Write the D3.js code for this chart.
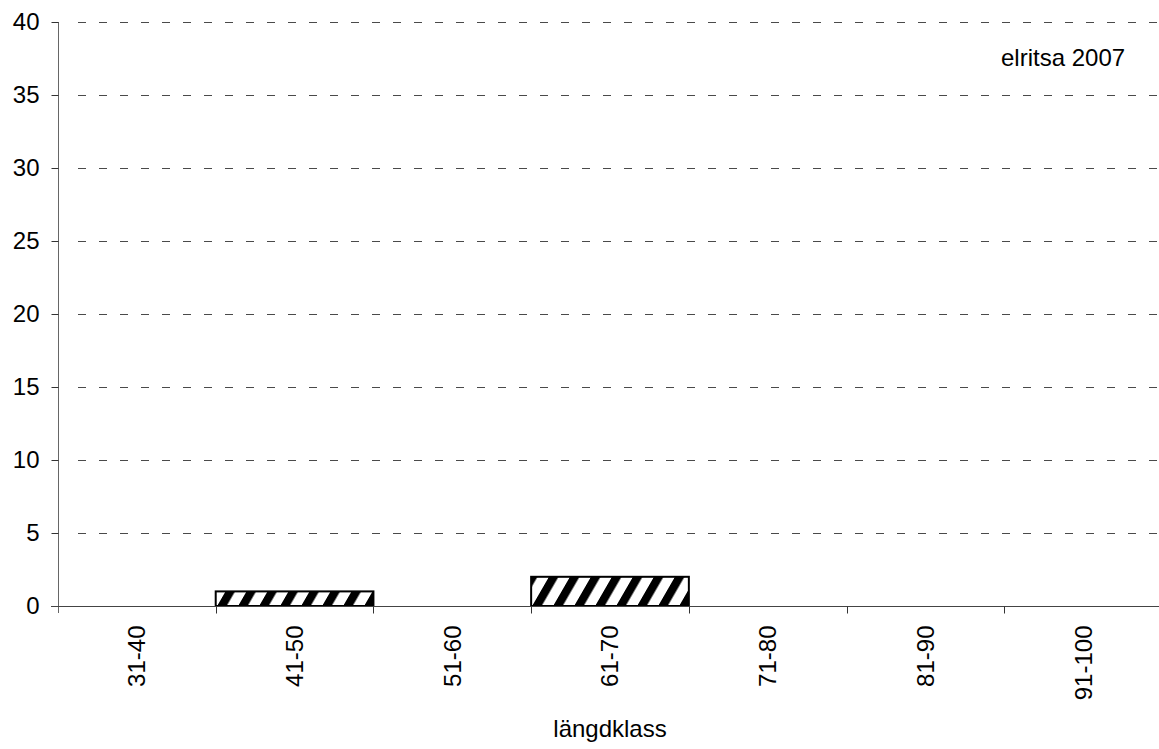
<!DOCTYPE html>
<html>
<head>
<meta charset="utf-8">
<script src="https://cdn.jsdelivr.net/npm/d3@7"></script>
<style>
  body { margin: 0; background: #fff; }
  svg text { font-family: "Liberation Sans", Arial, sans-serif; }
</style>
</head>
<body>
<script>
// data
var categories = ["31-40", "41-50", "51-60", "61-70", "71-80", "81-90", "91-100"];
var counts = [0, 1, 0, 2, 0, 0, 0];
var yTicks = [0, 5, 10, 15, 20, 25, 30, 35, 40];
var chartLabel = "elritsa 2007";
var xTitle = "längdklass";

// layout (plotTop, not "top" - that one is taken by window.top)
var width = 1159, height = 749;
var plotLeft = 58, plotRight = 1162, plotTop = 22, plotBottom = 606;
var fontSize = 24;

var svg = d3.select("body").append("svg")
    .attr("width", width)
    .attr("height", height);

// hatch pattern for the bars
var pattern = svg.append("defs").append("pattern")
    .attr("id", "hatch")
    .attr("patternUnits", "userSpaceOnUse")
    .attr("width", 21)
    .attr("height", 10)
    .attr("patternTransform", "skewX(-30)");
pattern.append("rect")
    .attr("width", 21).attr("height", 10)
    .attr("fill", "#fff");
pattern.append("rect")
    .attr("width", 9.5).attr("height", 10)
    .attr("fill", "#000");

var x = d3.scaleBand()
    .domain(categories)
    .range([plotLeft, plotRight])
    .padding(0);

var y = d3.scaleLinear()
    .domain([0, 40])
    .range([plotBottom, plotTop]);

// dashed gridlines
svg.append("g")
    .selectAll("line")
    .data(yTicks.filter(function(d) { return d > 0; }))
    .enter().append("line")
    .attr("x1", plotLeft + 7)
    .attr("x2", plotRight)
    .attr("y1", function(d) { return Math.round(y(d)) + 0.5; })
    .attr("y2", function(d) { return Math.round(y(d)) + 0.5; })
    .attr("stroke", "#4a4a4a")
    .attr("stroke-width", 1)
    .attr("stroke-dasharray", "8,13")
    .attr("stroke-dashoffset", 8);

// bars
svg.append("g")
    .selectAll("rect")
    .data(counts.map(function(v, i) { return {cat: categories[i], v: v}; })
        .filter(function(d) { return d.v > 0; }))
    .enter().append("rect")
    .attr("x", function(d) { return x(d.cat); })
    .attr("y", function(d) { return y(d.v); })
    .attr("width", x.bandwidth())
    .attr("height", function(d) { return y(0) - y(d.v); })
    .attr("fill", "url(#hatch)")
    .attr("stroke", "#000")
    .attr("stroke-width", 2);

// y axis
var yAxis = svg.append("g")
    .attr("transform", "translate(" + (plotLeft + 0.5) + ",0)")
    .call(d3.axisLeft(y).tickValues(yTicks).tickSize(7).tickPadding(12));
yAxis.select(".domain").attr("stroke", "#666")
    .attr("d", "M0," + plotTop + "V" + (plotBottom + 7));
yAxis.selectAll(".tick line").attr("stroke", "#333");
yAxis.selectAll(".tick text")
    .attr("font-size", fontSize)
    .attr("fill", "#000")
    .attr("font-family", "Liberation Sans, Arial, sans-serif");

// x axis
var xAxis = svg.append("g")
    .attr("transform", "translate(0," + (plotBottom + 0.5) + ")")
    .call(d3.axisBottom(x).tickSize(0).tickPadding(0));
xAxis.select(".domain").attr("stroke", "#444")
    .attr("d", "M" + (plotLeft - 7) + ",0H" + plotRight);
xAxis.selectAll(".tick text")
    .attr("font-size", fontSize)
    .attr("font-family", "Liberation Sans, Arial, sans-serif")
    .attr("fill", "#000")
    .attr("text-anchor", "end")
    .attr("transform", "translate(0,19) rotate(-90)")
    .attr("x", 0)
    .attr("y", 0)
    .attr("dy", "0.35em");

// category boundary ticks
xAxis.append("g")
    .selectAll("line")
    .data(categories.slice(1))
    .enter().append("line")
    .attr("x1", function(d) { return Math.round(x(d)) + 0.5; })
    .attr("x2", function(d) { return Math.round(x(d)) + 0.5; })
    .attr("y1", 0)
    .attr("y2", 7)
    .attr("stroke", "#333");

// labels
svg.append("text")
    .attr("x", 1001)
    .attr("y", 66)
    .attr("font-size", fontSize)
    .text(chartLabel);

svg.append("text")
    .attr("x", (plotLeft + plotRight) / 2)
    .attr("y", 737)
    .attr("text-anchor", "middle")
    .attr("font-size", fontSize)
    .text(xTitle);
</script>
</body>
</html>
